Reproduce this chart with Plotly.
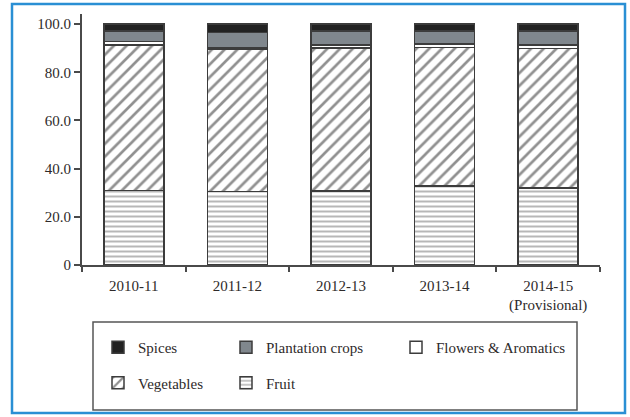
import plotly.graph_objects as go

categories = ["2010-11", "2011-12", "2012-13", "2013-14", "2014-15<br>(Provisional)"]
fruit = [31.0, 30.5, 30.8, 32.8, 31.9]
vegetables = [60.3, 59.2, 59.2, 57.4, 58.0]
flowers = [1.4, 0.6, 1.3, 1.6, 1.5]
plantation = [4.5, 6.3, 5.9, 5.4, 5.8]
spices = [2.8, 3.4, 2.8, 2.8, 2.8]
ytick_vals = [0, 20, 40, 60, 80, 100]
ytick_text = ["0", "20.0", "40.0", "60.0", "80.0", "100.0"]

FONT = "Liberation Serif"
TXT = "#2e2a2a"
LINE = dict(color="#3c3c3c", width=1.5)

fig = go.Figure()
fig.add_bar(name="Fruit", x=categories, y=fruit, legend="legend2", legendgroup="fr", legendrank=2,
            marker=dict(color="white", line=LINE,
                        pattern=dict(shape="-", fgcolor="#707070", bgcolor="white", size=5, solidity=0.4)))
fig.add_bar(name="Vegetables", x=categories, y=vegetables, legend="legend", legendgroup="ve", legendrank=2,
            marker=dict(color="white", line=LINE,
                        pattern=dict(shape="/", fgcolor="#222222", bgcolor="white", size=9, solidity=0.3)))
fig.add_bar(name="Flowers &amp; Aromatics", x=categories, y=flowers, legend="legend3", legendgroup="fl", legendrank=1,
            marker=dict(color="white", line=LINE))
fig.add_bar(name="Plantation crops", x=categories, y=plantation, legend="legend2", legendgroup="pl", legendrank=1,
            marker=dict(color="#80878d", line=LINE))
fig.add_bar(name="Spices", x=categories, y=spices, legend="legend", legendgroup="sp", legendrank=1,
            marker=dict(color="#222222", line=LINE))

W, H = 630, 417
L, R, T, B = 82, 30, 14, 152
pw, ph = W - L - R, H - T - B

def px(x):
    return (x - L) / pw

def py(y):
    return (H - B - y) / ph

def leg(x0):
    return dict(
        orientation="v", traceorder="grouped", tracegroupgap=13,
        x=px(x0), y=py(331), xanchor="left", yanchor="top",
        bgcolor="rgba(0,0,0,0)", borderwidth=0,
        font=dict(family=FONT, size=15, color=TXT),
        itemwidth=30,
    )

fig.update_layout(
    width=W, height=H,
    margin=dict(l=L, r=R, t=T, b=B),
    barmode="stack", bargap=0.42,
    plot_bgcolor="white", paper_bgcolor="white",
    font=dict(family=FONT, size=15, color=TXT),
    showlegend=True,
    legend=leg(98), legend2=leg(226), legend3=leg(396),
    xaxis=dict(
        type="category",
        range=[-0.5, 4.5], showline=True, linecolor="#4a4a4a", linewidth=1.8,
        ticks="outside", tickson="boundaries", ticklen=5, tickcolor="#4a4a4a",
        tickwidth=1.5, showgrid=False, zeroline=False, ticklabelstandoff=6,
        tickfont=dict(family=FONT, size=15, color=TXT),
    ),
    yaxis=dict(
        range=[0, 104.2], showline=True, linecolor="#4a4a4a", linewidth=1.8,
        ticks="outside", ticklen=6, tickcolor="#4a4a4a", tickwidth=1.5,
        tickvals=ytick_vals, ticktext=ytick_text, showgrid=False, zeroline=False,
        tickfont=dict(family=FONT, size=15, color=TXT),
    ),
    shapes=[
        dict(type="rect", xref="paper", yref="paper",
             x0=px(12), x1=px(625), y0=py(413), y1=py(4),
             line=dict(color="#2a8fd4", width=2.5), fillcolor="rgba(0,0,0,0)"),
        dict(type="rect", xref="paper", yref="paper",
             x0=px(93), x1=px(577), y0=py(410), y1=py(322),
             line=dict(color="#555555", width=1.5), fillcolor="rgba(0,0,0,0)"),
    ],
)

fig.write_html("out.html", config={"displayModeBar": False},
               post_script="document.body.style.margin='0';")
